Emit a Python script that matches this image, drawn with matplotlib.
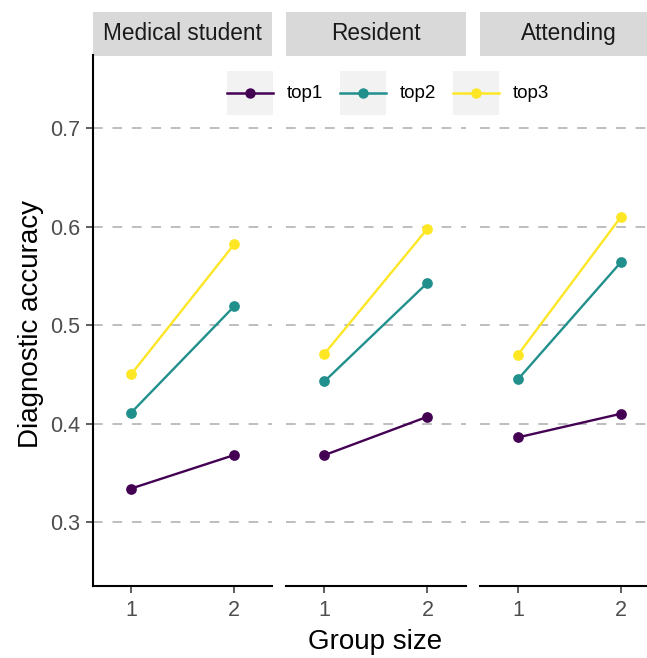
import matplotlib
matplotlib.use("Agg")
import matplotlib.pyplot as plt
from matplotlib.patches import Rectangle
from matplotlib.lines import Line2D
from matplotlib.legend_handler import HandlerLine2D

plt.rcParams['font.family'] = ['Liberation Sans', 'DejaVu Sans']

panels = ["Medical student", "Resident", "Attending"]
group_size = [1, 2]
series = ["top1", "top2", "top3"]
colors = ["#440154", "#21908C", "#FDE725"]
accuracy = {
    "Medical student": {"top1": [0.334, 0.368], "top2": [0.411, 0.519], "top3": [0.450, 0.582]},
    "Resident": {"top1": [0.368, 0.407], "top2": [0.443, 0.543], "top3": [0.471, 0.598]},
    "Attending": {"top1": [0.386, 0.410], "top2": [0.445, 0.564], "top3": [0.470, 0.610]},
}
yticks = [0.3, 0.4, 0.5, 0.6, 0.7]


class KeyBox(HandlerLine2D):
    # legend key with a light grey background square, line centred in it
    def create_artists(self, legend, orig_handle, xdescent, ydescent, width, height, fontsize, trans):
        bg = Rectangle((-xdescent, -ydescent), width, height, facecolor="#F2F2F2",
                       edgecolor="none", transform=trans)
        arts = super().create_artists(legend, orig_handle, xdescent, ydescent, width, height, fontsize, trans)
        yc = -ydescent + height / 2
        for a in arts:
            a.set_ydata([yc] * len(a.get_xdata()))
        return [bg] + list(arts)


fig = plt.figure(figsize=(6.47, 6.58), dpi=100)

W, H = 647, 658
lefts = [92.6, 286.0, 479.5]
pw = 179.5
top_px, bot_px = 55.5, 586.0

for i, name in enumerate(panels):
    ax = fig.add_axes([lefts[i] / W, (H - bot_px) / H, pw / W, (bot_px - top_px) / H])
    for s, c in zip(series, colors):
        ax.plot(group_size, accuracy[name][s], color=c, lw=1.7, marker="o", markersize=6.7,
                clip_on=False, zorder=3)
    ax.set_xlim(0.626, 2.37)
    ax.set_ylim(0.235, 0.774)
    ax.set_xticks(group_size)
    ax.set_yticks(yticks)
    ax.set_yticklabels([f"{v:.1f}" for v in yticks])
    ax.yaxis.grid(True, linestyle=(0, (5, 5)), color="#BEBEBE", lw=1.4)
    ax.set_axisbelow(True)
    for sp in ["top", "right"]:
        ax.spines[sp].set_visible(False)
    ax.spines["bottom"].set_linewidth(1.5)
    ax.spines["left"].set_linewidth(1.5)
    ax.tick_params(labelsize=15.5, labelcolor="#4D4D4D", color="#333333", length=4.8, width=1.1, pad=4)
    ax.tick_params(axis="x", pad=5)
    if i > 0:
        ax.spines["left"].set_visible(False)
        ax.tick_params(left=False, labelleft=False)
    # facet strip
    sh = 44 / (bot_px - top_px)
    ax.add_patch(Rectangle((0, 1.0), 1, sh, transform=ax.transAxes, facecolor="#D9D9D9",
                           edgecolor="none", clip_on=False))
    ax.text(0.5, 1.0 + sh / 2, name, transform=ax.transAxes, ha="center", va="center",
            fontsize=16.3, color="#1A1A1A")

fig.text(31 / W, 0.508, "Diagnostic accuracy", rotation=90, ha="center", va="center", fontsize=20)
fig.text(375 / W, 0.025, "Group size", ha="center", va="center", fontsize=20)

handles = [Line2D([], [], color=c, lw=1.8, marker="o", markersize=6.5) for c in colors]
fig.legend(handles, series, loc="center left", bbox_to_anchor=(227 / W, (H - 93) / H),
           ncol=3, frameon=False, fontsize=13.5, borderpad=0, borderaxespad=0,
           handlelength=2.45, handleheight=3.235, handletextpad=0.75, columnspacing=0.88,
           handler_map={Line2D: KeyBox()})

fig.savefig("out.png", dpi=100)
